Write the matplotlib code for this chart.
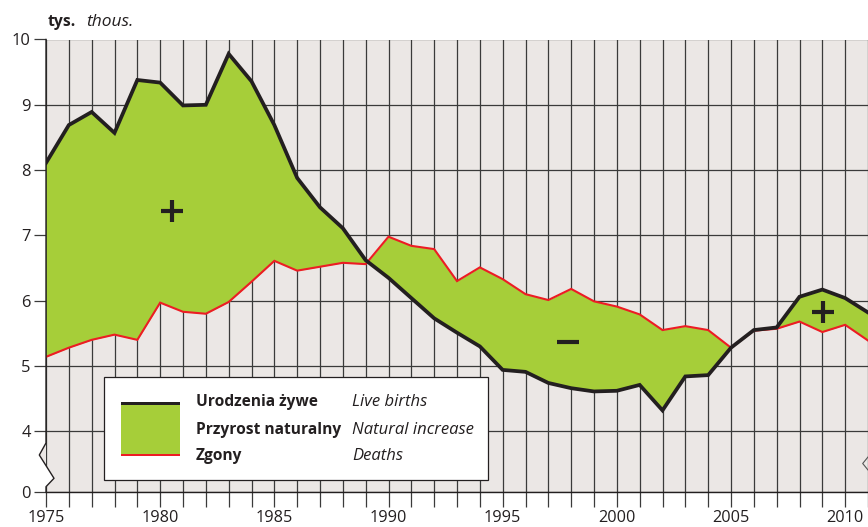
import matplotlib
matplotlib.use("Agg")
import matplotlib.pyplot as plt
from matplotlib.lines import Line2D
from matplotlib.patches import Rectangle, Polygon
import numpy as np

plt.rcParams['font.family'] = ['Open Sans', 'DejaVu Sans']

# ---------------- data ----------------
years = list(range(1975, 2012))
births = [8.11, 8.69, 8.89, 8.57, 9.38, 9.34, 8.99, 9.00, 9.78, 9.36,
          8.69, 7.88, 7.43, 7.11, 6.62, 6.35, 6.04, 5.73, 5.51, 5.30,
          4.94, 4.91, 4.74, 4.66, 4.61, 4.62, 4.71, 4.32, 4.84, 4.86,
          5.28, 5.55, 5.59, 6.06, 6.17, 6.04, 5.82]
deaths = [5.14, 5.28, 5.40, 5.48, 5.40, 5.97, 5.83, 5.80, 5.98, 6.29,
          6.61, 6.46, 6.52, 6.58, 6.56, 6.98, 6.84, 6.79, 6.30, 6.51,
          6.33, 6.10, 6.01, 6.18, 5.99, 5.91, 5.79, 5.55, 5.61, 5.55,
          5.28, 5.54, 5.57, 5.68, 5.52, 5.63, 5.39]

x_major = [1975, 1980, 1985, 1990, 1995, 2000, 2005, 2010]
axis_break_bottom = 3.07          # where "0" sits on the broken axis
y_tick_values = [axis_break_bottom, 4, 5, 6, 7, 8, 9, 10]
y_tick_labels = ['0', '4', '5', '6', '7', '8', '9', '10']

sign_years = [1980.5, 1997.85, 2009.05]
sign_values = [7.37, 5.37, 5.82]
sign_markers = ['+', '_', '+']

legend_pl = ['Urodzenia żywe', 'Przyrost naturalny', 'Zgony']
legend_en = ['Live births', 'Natural increase', 'Deaths']

# ---------------- style ----------------
BG = '#ebe7e5'
GREEN = '#a6ce39'
RED = '#ed1c24'
BLACK = '#231f20'
GRID = '#3a3a3a'

W, H = 868, 527
fig = plt.figure(figsize=(W / 100, H / 100), dpi=100)
fig.patch.set_facecolor('white')

def fx(px):
    return px / W

def fy(py):
    return (H - py) / H

ax = fig.add_axes([fx(46), fy(492), fx(868) - fx(46), fy(39.5) - fy(492)])
ax.set_facecolor(BG)
ax.set_xlim(1975, 2010.89)
ax.set_ylim(axis_break_bottom, 10)

# fill & lines
ax.fill_between(years, births, deaths, color=GREEN, lw=0, interpolate=True, zorder=2)
ax.plot(years, deaths, color=RED, lw=1.5, zorder=3, solid_joinstyle='miter')
ax.plot(years, births, color=BLACK, lw=2.7, zorder=4, solid_joinstyle='miter')

for sx, sy, sm in zip(sign_years, sign_values, sign_markers):
    ax.plot([sx], [sy], marker=sm, ms=16, mew=3, color=BLACK, zorder=5, ls='none')

# ticks
ax.set_xticks(x_major)
ax.set_xticks(years, minor=True)
ax.set_yticks(y_tick_values)
ax.set_yticklabels(y_tick_labels)
ax.tick_params(axis='x', which='both', direction='out', length=11, width=0.9,
               color=GRID, pad=2, labelsize=11.7, labelcolor='#231f20')
ax.tick_params(axis='y', which='both', direction='out', length=8.5, width=0.9,
               color=GRID, pad=2.5, labelsize=11.9, labelcolor='#231f20')
ax.grid(True, which='both', axis='x', color=GRID, lw=0.9, zorder=1)
ax.grid(True, which='major', axis='y', color=GRID, lw=0.9, zorder=1)
ax.set_axisbelow(True)

for s in ['top', 'right', 'left']:
    ax.spines[s].set_visible(False)
ax.spines['bottom'].set_color(BLACK)
ax.spines['bottom'].set_linewidth(1.0)

# left axis with break zigzag (figure pixel coords)
zx = [46, 46, 39.3, 54, 46, 46]
zy = [39.5, 443, 455, 478.3, 486.7, 492]
poly_a = Polygon([(fx(46), fy(443)), (fx(39.3), fy(455)), (fx(46), fy(465.6))],
                 closed=True, transform=fig.transFigure, fc=BG, ec='none', zorder=10)
poly_b = Polygon([(fx(46), fy(465.6)), (fx(54), fy(478.3)), (fx(46.5), fy(486.7)),
                  (fx(45.5), fy(486.7)), (fx(45.5), fy(465.6))],
                 closed=True, transform=fig.transFigure, fc='white', ec='none', zorder=10)
fig.add_artist(poly_a)
fig.add_artist(poly_b)
fig.add_artist(Line2D([fx(v) for v in zx], [fy(v) for v in zy],
                      transform=fig.transFigure, color=BLACK, lw=1.0, zorder=11))
# right-side break hint
fig.add_artist(Line2D([fx(868), fx(862.7), fx(868)], [fy(457), fy(463.5), fy(470)],
                      transform=fig.transFigure, color='#555555', lw=0.8, zorder=11))

# unit title
fig.text(fx(48), fy(21.7), 'tys.', fontsize=11.3, fontweight='bold', color=BLACK,
         ha='left', va='center')
fig.text(fx(86), fy(21.7), 'thous.', fontsize=12.5, fontstyle='italic', color=BLACK,
         ha='left', va='center')

# legend box
fig.add_artist(Rectangle((fx(104), fy(480)), fx(488) - fx(104), fy(376.7) - fy(480),
                         transform=fig.transFigure, fc='white', ec=BLACK, lw=0.9, zorder=20))
fig.add_artist(Rectangle((fx(120.7), fy(455.7)), fx(180) - fx(120.7), fy(401.7) - fy(455.7),
                         transform=fig.transFigure, fc=GREEN, ec='none', zorder=21))
fig.add_artist(Rectangle((fx(120.7), fy(405)), fx(180) - fx(120.7), fy(401.7) - fy(405),
                         transform=fig.transFigure, fc=BLACK, ec='none', zorder=22))
fig.add_artist(Rectangle((fx(120.7), fy(455.7)), fx(180) - fx(120.7), fy(453.7) - fy(455.7),
                         transform=fig.transFigure, fc=RED, ec='none', zorder=22))
rows_y = [402, 429.5, 456.5]
for ty, pl, en in zip(rows_y, legend_pl, legend_en):
    fig.text(fx(196), fy(ty), pl, fontsize=11.2, fontweight='bold', color=BLACK,
             ha='left', va='center', zorder=23)
    fig.text(fx(352), fy(ty), en, fontsize=12.0, fontstyle='italic', color=BLACK,
             ha='left', va='center', zorder=23)

fig.savefig('out.png', dpi=100, facecolor='white')
